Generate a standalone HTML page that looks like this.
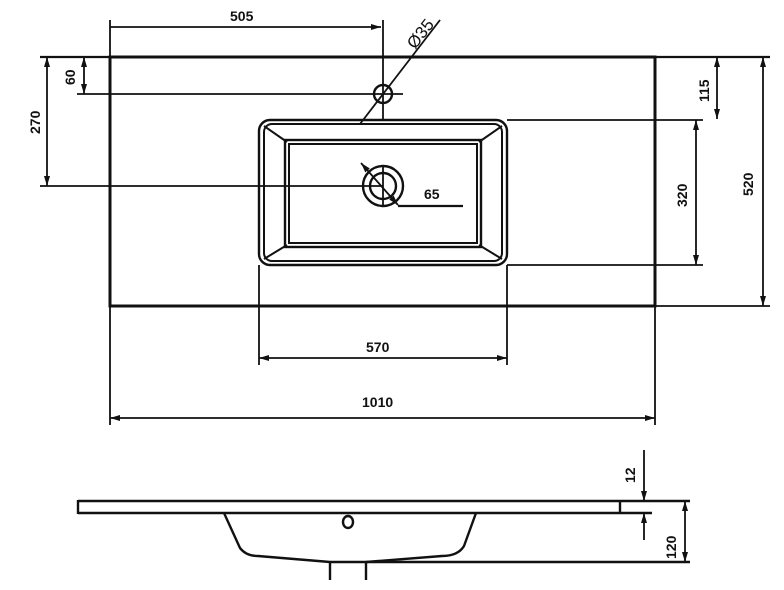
<!DOCTYPE html>
<html><head><meta charset="utf-8"><style>
html,body{margin:0;padding:0;background:#fff;}
svg{display:block}
text{font-family:"Liberation Sans",sans-serif;font-weight:bold;font-size:14px;fill:#111}
</style></head><body>
<svg width="784" height="590" viewBox="0 0 784 590" xmlns="http://www.w3.org/2000/svg">
<defs>
<marker id="a" viewBox="0 0 10 6" refX="10" refY="3" markerWidth="10" markerHeight="6" orient="auto-start-reverse" markerUnits="userSpaceOnUse">
<path d="M0,0 L10,3 L0,6 z" fill="#111"/></marker>
</defs>
<g stroke="#111" fill="none" stroke-width="1.8">
<rect x="110" y="57" width="545" height="249" stroke-width="3"/>
<line x1="40" y1="57" x2="770" y2="57" stroke-width="2.2"/>
<line x1="110" y1="20" x2="110" y2="57"/>
<line x1="383" y1="20" x2="383" y2="120"/>
<line x1="77" y1="94" x2="403" y2="94"/>
<line x1="40" y1="186" x2="383" y2="186"/>
<line x1="507" y1="120" x2="703" y2="120"/>
<line x1="507" y1="265" x2="703" y2="265"/>
<line x1="655" y1="306" x2="770" y2="306"/>
<line x1="259" y1="265" x2="259" y2="365"/>
<line x1="507" y1="265" x2="507" y2="365"/>
<line x1="110" y1="306" x2="110" y2="425"/>
<line x1="655" y1="306" x2="655" y2="425"/>
<line x1="110" y1="27" x2="381" y2="27" marker-end="url(#a)"/>
<line x1="84" y1="57" x2="84" y2="94" marker-start="url(#a)" marker-end="url(#a)"/>
<line x1="47" y1="57" x2="47" y2="186" marker-start="url(#a)" marker-end="url(#a)"/>
<line x1="717" y1="57" x2="717" y2="119" marker-start="url(#a)" marker-end="url(#a)"/>
<line x1="696" y1="120" x2="696" y2="265" marker-start="url(#a)" marker-end="url(#a)"/>
<line x1="763" y1="57" x2="763" y2="306" marker-start="url(#a)" marker-end="url(#a)"/>
<line x1="259" y1="358" x2="507" y2="358" marker-start="url(#a)" marker-end="url(#a)"/>
<line x1="110" y1="418" x2="655" y2="418" marker-start="url(#a)" marker-end="url(#a)"/>
<circle cx="383" cy="94" r="9" stroke-width="2.4"/>
<line x1="360" y1="124" x2="440" y2="20"/>
<rect x="259" y="120" width="248" height="145" rx="11" stroke-width="2.4"/>
<rect x="264" y="124" width="238" height="137" rx="8" stroke-width="2"/>
<rect x="285" y="140" width="196" height="107" stroke-width="2.4"/>
<rect x="289" y="144" width="188" height="99" stroke-width="2"/>
<line x1="264" y1="126" x2="287" y2="142" stroke-width="2"/><line x1="502" y1="126" x2="479" y2="142" stroke-width="2"/>
<line x1="264" y1="259" x2="287" y2="245" stroke-width="2"/><line x1="502" y1="259" x2="479" y2="245" stroke-width="2"/>
<circle cx="383" cy="186" r="20" stroke-width="2.4"/>
<circle cx="383" cy="186" r="13" stroke-width="2.4"/>
<line x1="383" y1="166" x2="383" y2="206"/>
<line x1="361" y1="163" x2="398" y2="205" marker-start="url(#a)" marker-end="url(#a)"/>
<line x1="398" y1="206" x2="463" y2="206" stroke-width="2.2"/>
<line x1="78" y1="501" x2="690" y2="501" stroke-width="2.4"/>
<line x1="78" y1="513" x2="652" y2="513" stroke-width="2.4"/>
<line x1="78" y1="500" x2="78" y2="514" stroke-width="2.4"/>
<line x1="620" y1="500" x2="620" y2="514" stroke-width="2.4"/>
<path d="M224,513 L240,548 Q246,556 258,556 L330,562 M476,513 L464,546 Q458,556 442,556 L366,562" stroke-width="2.4"/>
<line x1="330" y1="562" x2="690" y2="562" stroke-width="2.4"/>
<path d="M330,562 V580 M366,562 V580" stroke-width="2.4"/>
<ellipse cx="348" cy="522" rx="5" ry="6" stroke-width="2.4"/>
<line x1="644" y1="450" x2="644" y2="501" marker-end="url(#a)"/>
<line x1="644" y1="540" x2="644" y2="513" marker-end="url(#a)"/>
<line x1="685" y1="501" x2="685" y2="562" marker-start="url(#a)" marker-end="url(#a)"/>
</g>
<text x="230" y="21">505</text>
<text transform="translate(415,50) rotate(-52)" style="font-weight:normal;font-size:17px">Ø35</text>
<text transform="translate(75,85) rotate(-90)">60</text>
<text transform="translate(40,134) rotate(-90)">270</text>
<text transform="translate(709,102) rotate(-90)">115</text>
<text transform="translate(687,207) rotate(-90)">320</text>
<text transform="translate(753,196) rotate(-90)">520</text>
<text x="424" y="199">65</text>
<text x="366" y="352">570</text>
<text x="362" y="407">1010</text>
<text transform="translate(635,483) rotate(-90)">12</text>
<text transform="translate(676,559) rotate(-90)">120</text>
</svg>
</body></html>
